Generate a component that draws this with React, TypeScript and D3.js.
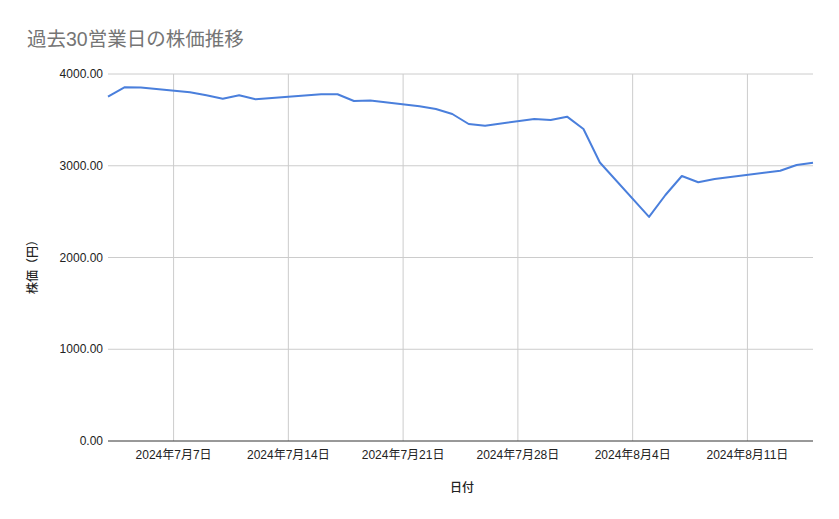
import React, { useEffect, useRef } from 'react';
import * as d3 from 'd3';

// trading days (JST), 過去30営業日
const dates: string[] = [
  '2024-07-03', '2024-07-04', '2024-07-05', '2024-07-08', '2024-07-09',
  '2024-07-10', '2024-07-11', '2024-07-12', '2024-07-16', '2024-07-17',
  '2024-07-18', '2024-07-19', '2024-07-22', '2024-07-23', '2024-07-24',
  '2024-07-25', '2024-07-26', '2024-07-29', '2024-07-30', '2024-07-31',
  '2024-08-01', '2024-08-02', '2024-08-05', '2024-08-06', '2024-08-07',
  '2024-08-08', '2024-08-09', '2024-08-13', '2024-08-14', '2024-08-15',
];

const prices: number[] = [
  3753, 3855, 3853, 3800, 3768,
  3731, 3768, 3724, 3778, 3779,
  3706, 3710, 3648, 3619, 3564,
  3455, 3436, 3510, 3499, 3535,
  3401, 3035, 2442, 2681, 2888,
  2820, 2856, 2946, 3008, 3033,
];

const yTicks: number[] = [0, 1000, 2000, 3000, 4000];
const xTicks: string[] = ['2024-07-07', '2024-07-14', '2024-07-21', '2024-07-28', '2024-08-04', '2024-08-11'];

const W = 839;
const H = 519;
const FONT = '"Liberation Sans", Arial, "Noto Sans CJK JP", sans-serif';

const StockChart: React.FC = () => {
  const svgRef = useRef<SVGSVGElement>(null);

  useEffect(() => {
    const svg = d3.select(svgRef.current!);
    svg.selectAll('*').remove();

    const margin = { top: 74, right: 26, bottom: 78, left: 108 };
    const width = W - margin.left - margin.right;
    const height = H - margin.top - margin.bottom;

    const parse = d3.timeParse('%Y-%m-%d');
    const data = dates.map((d, i) => ({ date: parse(d) as Date, value: prices[i] }));

    const x = d3
      .scaleTime()
      .domain([parse('2024-07-03') as Date, parse('2024-08-15') as Date])
      .range([0, width]);
    const y = d3.scaleLinear().domain([0, 4000]).range([height, 0]);

    svg.append('rect').attr('width', W).attr('height', H).attr('fill', '#fff');

    // title
    svg
      .append('text')
      .attr('x', 27)
      .attr('y', 46)
      .attr('font-family', FONT)
      .attr('font-size', 19.5)
      .attr('fill', '#757575')
      .text('過去30営業日の株価推移');

    const g = svg.append('g').attr('transform', `translate(${margin.left},${margin.top})`);

    // horizontal gridlines
    g.selectAll('.hgrid')
      .data(yTicks.filter((t) => t > 0))
      .enter()
      .append('line')
      .attr('x1', 0)
      .attr('x2', width)
      .attr('y1', (d) => y(d))
      .attr('y2', (d) => y(d))
      .attr('stroke', '#cccccc')
      .attr('stroke-width', 1);

    // vertical gridlines
    const xt = xTicks.map((d) => parse(d) as Date);
    g.selectAll('.vgrid')
      .data(xt)
      .enter()
      .append('line')
      .attr('x1', (d) => x(d))
      .attr('x2', (d) => x(d))
      .attr('y1', 0)
      .attr('y2', height)
      .attr('stroke', '#cccccc')
      .attr('stroke-width', 1);

    // y tick labels
    g.selectAll('.ylab')
      .data(yTicks)
      .enter()
      .append('text')
      .attr('x', -5)
      .attr('y', (d) => y(d) + 4)
      .attr('text-anchor', 'end')
      .attr('font-family', FONT)
      .attr('font-size', 12)
      .attr('fill', '#222')
      .text((d) => d3.format('.2f')(d));

    // x tick labels
    g.selectAll('.xlab')
      .data(xt)
      .enter()
      .append('text')
      .attr('x', (d) => x(d))
      .attr('y', height + 18)
      .attr('text-anchor', 'middle')
      .attr('font-family', FONT)
      .attr('font-size', 12)
      .attr('fill', '#222')
      .text((d) => `${d.getFullYear()}年${d.getMonth() + 1}月${d.getDate()}日`);

    // baseline
    g.append('line')
      .attr('x1', 0)
      .attr('x2', width)
      .attr('y1', height)
      .attr('y2', height)
      .attr('stroke', '#333')
      .attr('stroke-width', 1);

    // price line
    const line = d3
      .line<{ date: Date; value: number }>()
      .x((d) => x(d.date))
      .y((d) => y(d.value));

    g.append('path')
      .datum(data)
      .attr('d', line)
      .attr('fill', 'none')
      .attr('stroke', '#4a7fdc')
      .attr('stroke-width', 2)
      .attr('stroke-linejoin', 'round');

    // axis titles
    svg
      .append('text')
      .attr('x', 462)
      .attr('y', 492)
      .attr('text-anchor', 'middle')
      .attr('font-family', FONT)
      .attr('font-size', 12)
      .attr('font-weight', 500)
      .attr('fill', '#222')
      .text('日付');

    svg
      .append('text')
      .attr('transform', `translate(37,264) rotate(-90)`)
      .attr('text-anchor', 'middle')
      .attr('font-family', FONT)
      .attr('font-size', 12)
      .attr('font-weight', 500)
      .attr('fill', '#222')
      .text('株価（円）');
  }, []);

  return <svg ref={svgRef} width={W} height={H} style={{ display: 'block' }} />;
};

export default function App() {
  return (
    <div style={{ margin: -8 }}>
      <StockChart />
    </div>
  );
}
